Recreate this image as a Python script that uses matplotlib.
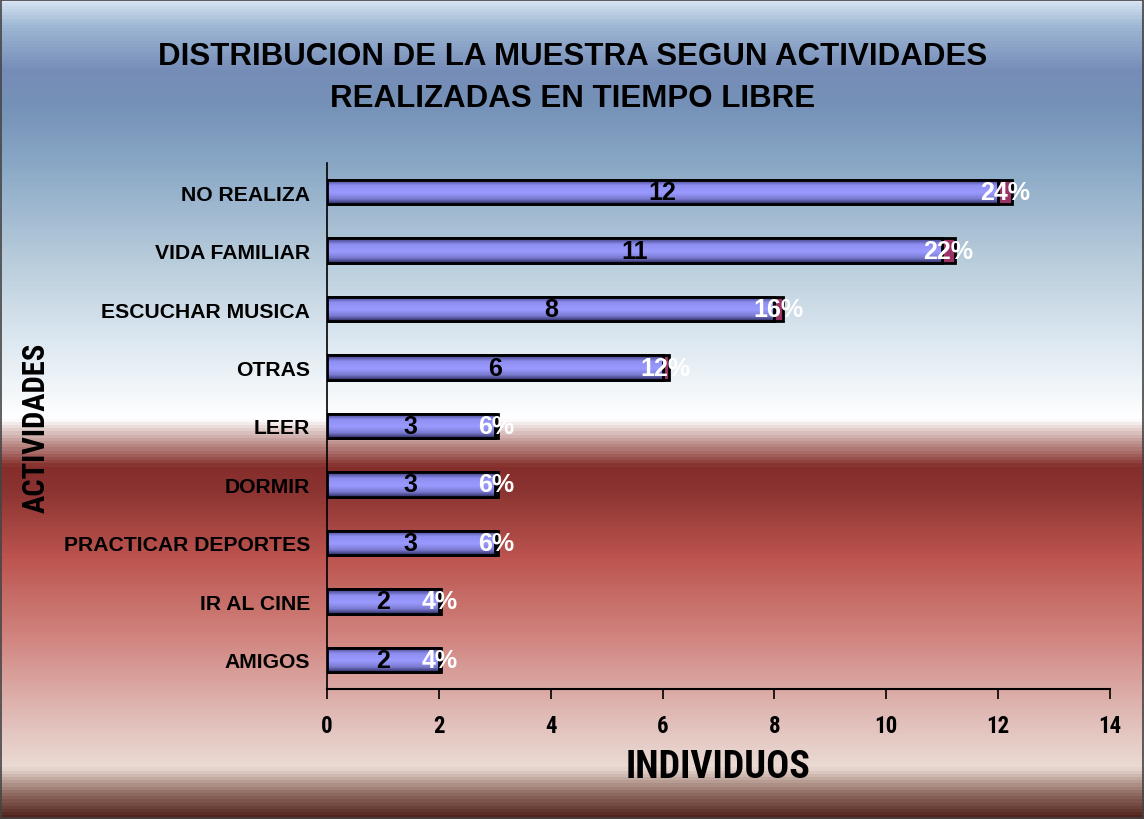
import numpy as np
import matplotlib

matplotlib.use("Agg", force=True)
import matplotlib.pyplot as plt
from matplotlib.colors import LinearSegmentedColormap
from matplotlib.patches import Rectangle


categories = [
    "NO REALIZA",
    "VIDA FAMILIAR",
    "ESCUCHAR MUSICA",
    "OTRAS",
    "LEER",
    "DORMIR",
    "PRACTICAR DEPORTES",
    "IR AL CINE",
    "AMIGOS",
]
counts = [12, 11, 8, 6, 3, 3, 3, 2, 2]
shares = [0.24, 0.22, 0.16, 0.12, 0.06, 0.06, 0.06, 0.04, 0.04]
x_ticks = [0, 2, 4, 6, 8, 10, 12, 14]

title = "DISTRIBUCION DE LA MUESTRA SEGUN ACTIVIDADES\nREALIZADAS EN TIEMPO LIBRE"
x_label = "INDIVIDUOS"
y_label = "ACTIVIDADES"

WIDE = ["Liberation Sans", "DejaVu Sans"]
NARROW = ["Liberation Sans Narrow", "Roboto Condensed", "DejaVu Sans Condensed",
          "Liberation Sans", "DejaVu Sans"]

# background gradient, positions measured from the top of the image
bg_stops = [
    (0 / 820, (0.84, 0.89, 0.95)),
    (25 / 820, (0.62, 0.72, 0.83)),
    (70 / 820, (0.46, 0.55, 0.72)),
    (105 / 820, (0.46, 0.57, 0.72)),
    (160 / 820, (0.53, 0.65, 0.77)),
    (260 / 820, (0.72, 0.80, 0.86)),
    (350 / 820, (0.88, 0.92, 0.95)),
    (420 / 820, (1.00, 1.00, 1.00)),
    (445 / 820, (0.74, 0.56, 0.54)),
    (468 / 820, (0.52, 0.18, 0.17)),
    (490 / 820, (0.54, 0.20, 0.19)),
    (560 / 820, (0.74, 0.33, 0.31)),
    (640 / 820, (0.82, 0.52, 0.50)),
    (720 / 820, (0.88, 0.74, 0.72)),
    (770 / 820, (0.92, 0.86, 0.83)),
    (795 / 820, (0.58, 0.44, 0.40)),
    (820 / 820, (0.32, 0.14, 0.11)),
]
bg_cmap = LinearSegmentedColormap.from_list("bg", bg_stops)
bar_cmap = LinearSegmentedColormap.from_list(
    "bar",
    [(0.0, "#3a3a7a"), (0.25, "#8f8ff2"), (0.55, "#9a9aff"), (0.8, "#7a7ad0"), (1.0, "#2e2e66")],
)

fig = plt.figure(figsize=(11.44, 8.2), dpi=100)

bg = fig.add_axes([0, 0, 1, 1], zorder=-10)
bg.imshow(np.linspace(0, 1, 820).reshape(-1, 1), aspect="auto", cmap=bg_cmap,
          extent=[0, 1, 0, 1], origin="upper")
bg.set_xlim(0, 1)
bg.set_ylim(0, 1)
bg.axis("off")
bg.add_patch(Rectangle((0.0005, 0.0008), 0.999, 0.9984, fill=False, edgecolor="#444444",
                       linewidth=1.2, transform=bg.transAxes))

ax = fig.add_axes([327 / 1144, 1 - 690 / 820, (1110 - 327) / 1144, (690 - 164) / 820])
ax.patch.set_alpha(0)

y = np.arange(len(categories))
bar_h = 0.42
bars = ax.barh(y, counts, height=bar_h, color="#9999ff", edgecolor="black", linewidth=2, zorder=3)
extra = ax.barh(y, shares, left=counts, height=bar_h, color="#993366", edgecolor="black",
                linewidth=2, zorder=3)

grad = np.linspace(0, 1, 50).reshape(-1, 1)
for patch in bars:
    x0, y0 = patch.get_x(), patch.get_y()
    w, h = patch.get_width(), patch.get_height()
    im = ax.imshow(grad, aspect="auto", cmap=bar_cmap, extent=[x0, x0 + w, y0 + h, y0],
                   zorder=3.5, interpolation="bilinear")
    im.set_clip_path(patch)
    ax.add_patch(Rectangle((x0, y0), w, h, fill=False, edgecolor="black", linewidth=2, zorder=4))

for i, (c, s) in enumerate(zip(counts, shares)):
    ax.text(c / 2, i, str(c), ha="center", va="center", fontsize=18, fontweight="bold",
            color="black", family=WIDE, zorder=5)
    ax.text(c + s / 2, i, f"{int(round(s * 100))}%", ha="center", va="center", fontsize=18,
            fontweight="bold", color="white", family=WIDE, zorder=5)

ax.set_xlim(0, 14)
ax.set_ylim(len(categories) - 0.5, -0.5)
ax.set_xticks(x_ticks)
ax.set_xticklabels([str(t) for t in x_ticks], family=NARROW, fontsize=16.5, fontweight="bold")
ax.set_yticks(y)
ax.set_yticklabels(categories, family=WIDE, fontsize=15.2, fontweight="bold")
ax.tick_params(axis="x", direction="out", length=7, width=1.2, pad=11, color="black")
ax.tick_params(axis="y", length=0, pad=12)
for side in ("top", "right"):
    ax.spines[side].set_visible(False)
ax.spines["left"].set_linewidth(1.2)
ax.spines["bottom"].set_linewidth(1.5)

fig.text(573 / 1144, 1 - 78 / 820, title, ha="center", va="center", fontsize=22.5,
         fontweight="bold", family=WIDE, linespacing=1.55)
fig.text(718 / 1144, 1 - 768 / 820, x_label, ha="center", va="center", fontsize=27.5,
         fontweight="bold", family=NARROW)
fig.text(36 / 1144, 1 - 428 / 820, y_label, ha="center", va="center", fontsize=22,
         fontweight="bold", family=NARROW, rotation=90)

fig.savefig("out.png", dpi=100)
